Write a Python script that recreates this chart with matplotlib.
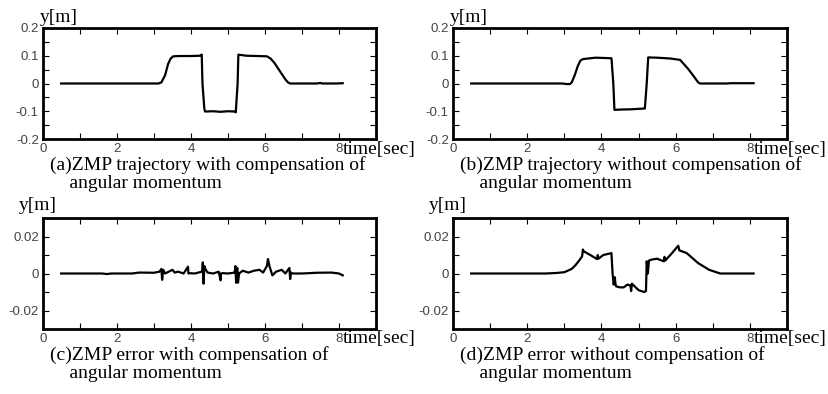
import matplotlib.pyplot as plt
import numpy as np

# (a) ZMP trajectory with compensation
t_a = [0.49, 3.12, 3.2, 3.3, 3.38, 3.45, 3.52, 3.7, 4.0, 4.24, 4.29, 4.31, 4.36, 4.38, 4.6, 4.8, 5.0, 5.19, 5.21, 5.26, 5.28,
       5.5, 5.8, 6.05, 6.15, 6.25, 6.35, 6.45, 6.55, 6.62, 6.68, 7.0, 7.4, 7.49, 7.55, 7.9, 8.1]
y_a = [0.0, 0.0, 0.004, 0.03, 0.07, 0.09, 0.098, 0.099, 0.099, 0.1, 0.104, 0.0, -0.09, -0.101, -0.1, -0.102, -0.1, -0.101, -0.104, 0.0, 0.104,
       0.1, 0.099, 0.098, 0.09, 0.075, 0.055, 0.035, 0.015, 0.004, 0.0, 0.0, 0.0, 0.002, 0.0, 0.0, 0.001]

# (b) ZMP trajectory without compensation
t_b = [0.49, 2.95, 3.05, 3.15, 3.2, 3.28, 3.36, 3.43, 3.5, 3.84, 4.27, 4.32, 4.35, 4.5, 4.8, 5.17, 5.22, 5.26, 5.5, 5.86,
       6.12, 6.22, 6.32, 6.42, 6.52, 6.6, 6.65, 7.4, 7.45, 8.1]
y_b = [0.0, 0.0, -0.002, -0.002, 0.004, 0.03, 0.062, 0.082, 0.088, 0.093, 0.091, 0.0, -0.095, -0.094, -0.093, -0.09, 0.0, 0.094, 0.093, 0.09,
       0.085, 0.07, 0.055, 0.038, 0.02, 0.005, 0.0, 0.0, 0.001, 0.001]

# (c) ZMP error with compensation
t_c = [0.49, 1.6, 1.72, 1.85, 2.4, 2.6, 3.0, 3.15, 3.2, 3.22, 3.25, 3.3, 3.4, 3.5, 3.56, 3.65, 3.8, 3.92, 3.93, 3.95, 4.1,
       4.3, 4.32, 4.34, 4.36, 4.4, 4.45, 4.6, 4.75, 4.8, 4.81, 4.85, 5.0, 5.18, 5.2, 5.22, 5.25, 5.27, 5.3, 5.4, 5.55,
       5.7, 5.85, 5.95, 6.05, 6.08, 6.12, 6.2, 6.3, 6.45, 6.55, 6.66, 6.68, 6.7, 6.75, 7.0, 7.4, 7.8, 8.0, 8.1]
y_c = [0.0, 0.0, -0.0003, 0.0, 0.0, 0.0005, 0.0004, 0.001, 0.0025, -0.0034, 0.002, 0.0, 0.001, 0.002, 0.0005, 0.001, 0.0, 0.0037, 0.0, 0.0002, 0.0,
       0.001, 0.006, -0.0055, 0.004, 0.002, 0.0005, 0.0, 0.001, -0.0037, 0.0, 0.0002, 0.0, 0.0005, 0.004, -0.005, 0.003, -0.005, 0.0, 0.0015, 0.0005,
       0.0015, 0.002, 0.0005, 0.004, 0.0078, 0.004, -0.001, 0.001, 0.002, 0.0, 0.003, -0.003, 0.0005, 0.0, 0.0, 0.0004, 0.0005, 0.0, -0.001]

# (d) ZMP error without compensation
t_d = [0.49, 2.5, 2.8, 3.0, 3.2, 3.3, 3.4, 3.48, 3.5, 3.52, 3.7, 3.88, 3.9, 3.92, 4.05, 4.27, 4.3, 4.33, 4.36, 4.38, 4.4,
       4.5, 4.6, 4.7, 4.78, 4.8, 4.82, 5.0, 5.15, 5.2, 5.22, 5.25, 5.28, 5.35, 5.5, 5.68, 5.7, 5.72, 5.9, 6.07, 6.1,
       6.3, 6.6, 6.9, 7.2, 8.1]
y_d = [0.0, 0.0, 0.0003, 0.0007, 0.0025, 0.0045, 0.007, 0.0093, 0.013, 0.012, 0.01, 0.0078, 0.01, 0.008, 0.01, 0.011, 0.0, -0.006, -0.002, -0.006, -0.007,
       -0.0075, -0.0075, -0.006, -0.0065, -0.0095, -0.0055, -0.009, -0.01, -0.0095, 0.0066, 0.0, 0.007, 0.0075, 0.008, 0.0066, 0.009, 0.007, 0.011, 0.015, 0.0125,
       0.011, 0.0057, 0.002, 0.0, 0.0]

captions = ["(a)ZMP trajectory with compensation of\n    angular momentum",
            "(b)ZMP trajectory without compensation of\n    angular momentum",
            "(c)ZMP error with compensation of\n    angular momentum",
            "(d)ZMP error without compensation of\n    angular momentum"]

serif = 'Liberation Serif'
sans = 'Liberation Sans'

fig = plt.figure(figsize=(8.29, 3.94), dpi=100)
W, H = 829, 394

def px_axes(left, top, right, bottom):
    return fig.add_axes([left / W, 1 - bottom / H, (right - left) / W, (bottom - top) / H])

def fmt(v):
    return '0' if abs(v) < 1e-9 else '%g' % v

boxes = [(43, 28, 376, 139), (453, 28, 787, 139), (43, 218, 376, 329), (453, 218, 787, 329)]
series = [(t_a, y_a), (t_b, y_b), (t_c, y_c), (t_d, y_d)]

for i, (box, (t, y), cap) in enumerate(zip(boxes, series, captions)):
    ax = px_axes(*box)
    ax.plot(t, y, color='black', lw=1.6)
    ax.set_xlim(0, 9)
    ax.set_xticks(range(10))
    ax.set_xticklabels([str(v) if v % 2 == 0 and v < 9 else '' for v in range(10)])
    if i < 2:
        ax.set_ylim(-0.2, 0.2)
        yt = np.round(np.arange(-0.2, 0.201, 0.05), 2)
        ax.set_yticks(yt)
        ax.set_yticklabels([fmt(v) if abs(round(v * 100)) % 10 == 0 else '' for v in yt])
    else:
        ax.set_ylim(-0.03, 0.03)
        yt = np.round(np.arange(-0.03, 0.0301, 0.01), 2)
        ax.set_yticks(yt)
        ax.set_yticklabels([fmt(v) if abs(round(v * 100)) % 2 == 0 else '' for v in yt])
    ax.tick_params(direction='in', top=True, right=True, length=4, width=0.8,
                   labelsize=9.5, labelcolor='#444444', pad=3)
    for lab in ax.get_xticklabels() + ax.get_yticklabels():
        lab.set_fontfamily(sans)
    for s in ax.spines.values():
        s.set_linewidth(2)

    left, top, right, bottom = box
    # axis labels
    if i < 2:
        fig.text((left - 3) / W, 1 - 17 / H, 'y[m]', fontsize=14, family=serif, ha='left', va='center')
    else:
        fig.text((left - 24) / W, 1 - 206 / H, 'y[m]', fontsize=14, family=serif, ha='left', va='center')
    fig.text((right - 33) / W, 1 - (bottom + 10) / H, 'time[sec]', fontsize=14, family=serif,
             ha='left', va='center')
    fig.text((left + 7) / W, 1 - (bottom + 17) / H, cap, fontsize=14, family=serif,
             ha='left', va='top', linespacing=1.1)

plt.savefig('out.png', dpi=100)
